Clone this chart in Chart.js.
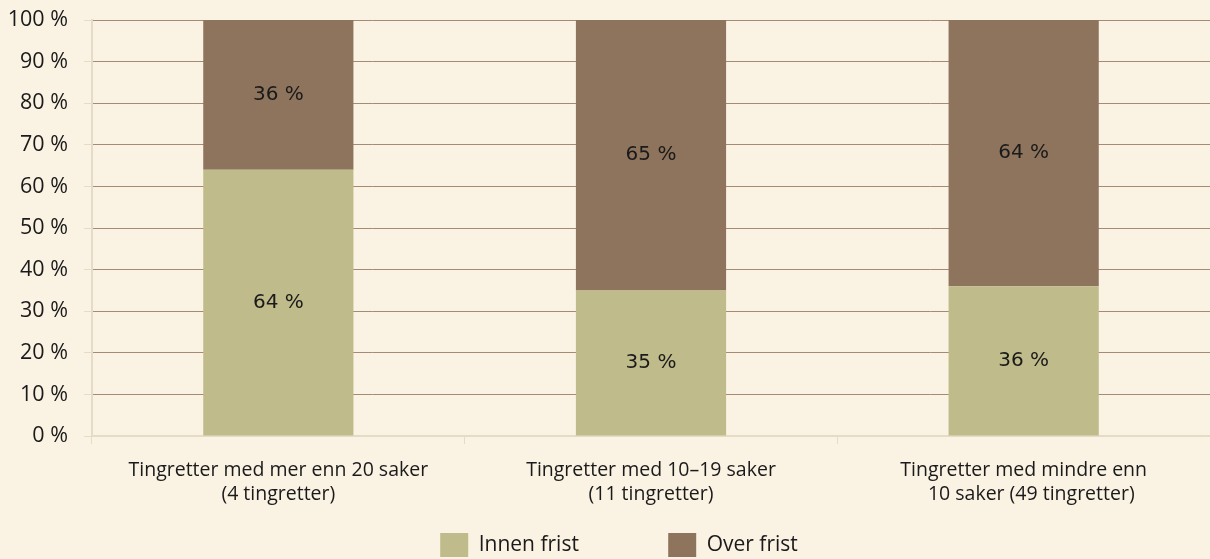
<!DOCTYPE html>
<html>
<head>
<meta charset="utf-8">
<script src="https://cdn.jsdelivr.net/npm/chart.js@4/dist/chart.umd.min.js"></script>
<style>
  html, body { margin: 0; padding: 0; background: #FAF2E3; }
  #wrap { width: 1210px; height: 559px; }
</style>
</head>
<body>
<div id="wrap"><canvas id="tingChart"></canvas></div>
<script>
const categories = [
    ['Tingretter med mer enn 20 saker', '(4 tingretter)'],
    ['Tingretter med 10\u201319 saker', '(11 tingretter)'],
    ['Tingretter med mindre enn', '   10 saker (49 tingretter)']
];
const innenFrist = [64, 35, 36];
const overFrist = [36, 65, 64];
const yTicks = [0, 10, 20, 30, 40, 50, 60, 70, 80, 90, 100];
const seriesNames = ['Innen frist', 'Over frist'];

const segmentLabels = {
    id: 'segmentLabels',
    afterDatasetsDraw(chart) {
        const ctx = chart.ctx;
        ctx.save();
        ctx.font = '20px "DejaVu Sans"';
        ctx.fillStyle = '#1a1a1a';
        ctx.textAlign = 'center';
        ctx.textBaseline = 'middle';
        chart.data.datasets.forEach((ds, i) => {
            chart.getDatasetMeta(i).data.forEach((bar, j) => {
                const mid = (bar.y + bar.base) / 2;
                ctx.fillText(ds.data[j] + ' %', bar.x, mid);
            });
        });
        ctx.restore();
    }
};

// legend sits a little right of centre and low in the original
const legendNudge = {
    id: 'legendNudge',
    afterLayout(chart) {
        chart.legend.left += 14;
        chart.legend.right += 14;
        chart.legend.top += 8;
        chart.legend.bottom += 8;
    }
};

const ctx = document.getElementById('tingChart').getContext('2d');
new Chart(ctx, {
    type: 'bar',
    data: {
        labels: categories,
        datasets: [
            { label: seriesNames[0], data: innenFrist, backgroundColor: '#C0BB8A', categoryPercentage: 1, barPercentage: 0.403 },
            { label: seriesNames[1], data: overFrist, backgroundColor: '#8E745D', categoryPercentage: 1, barPercentage: 0.403 }
        ]
    },
    options: {
        responsive: true,
        maintainAspectRatio: false,
        animation: false,
        layout: { padding: 0 },
        plugins: {
            legend: {
                position: 'bottom',
                labels: {
                    boxWidth: 28, boxHeight: 24, padding: 4,
                    color: '#1a1a1a',
                    font: { family: 'Open Sans', size: 21 },
                    generateLabels: chart => {
                        const items = Chart.defaults.plugins.legend.labels.generateLabels(chart);
                        items[0].text = items[0].text + ' '.repeat(15) + '\u2009';
                        return items;
                    }
                }
            },
            tooltip: { enabled: false }
        },
        scales: {
            x: {
                stacked: true,
                afterFit: scale => { scale.height = 85; },
                border: { color: '#E5DCC8', width: 2 },
                grid: { offset: true, drawOnChartArea: false, color: '#E5DCC8', tickLength: 8 },
                ticks: { color: '#1a1a1a', font: { family: 'Open Sans', size: 19.5 }, padding: 15, maxRotation: 0 }
            },
            y: {
                stacked: true,
                min: 0, max: 100,
                afterBuildTicks: axis => { axis.ticks = yTicks.map(v => ({ value: v })); },
                afterFit: scale => { scale.width = 92; scale.paddingTop = 20; },
                border: { color: '#E5DCC8', width: 2 },
                grid: { color: '#A58A74', tickColor: '#E5DCC8', tickLength: 8 },
                ticks: {
                    color: '#1a1a1a', padding: 16,
                    font: { family: 'Open Sans', size: 21.5 },
                    callback: v => v + ' %'
                }
            }
        }
    },
    plugins: [segmentLabels, legendNudge]
});
</script>
</body>
</html>
